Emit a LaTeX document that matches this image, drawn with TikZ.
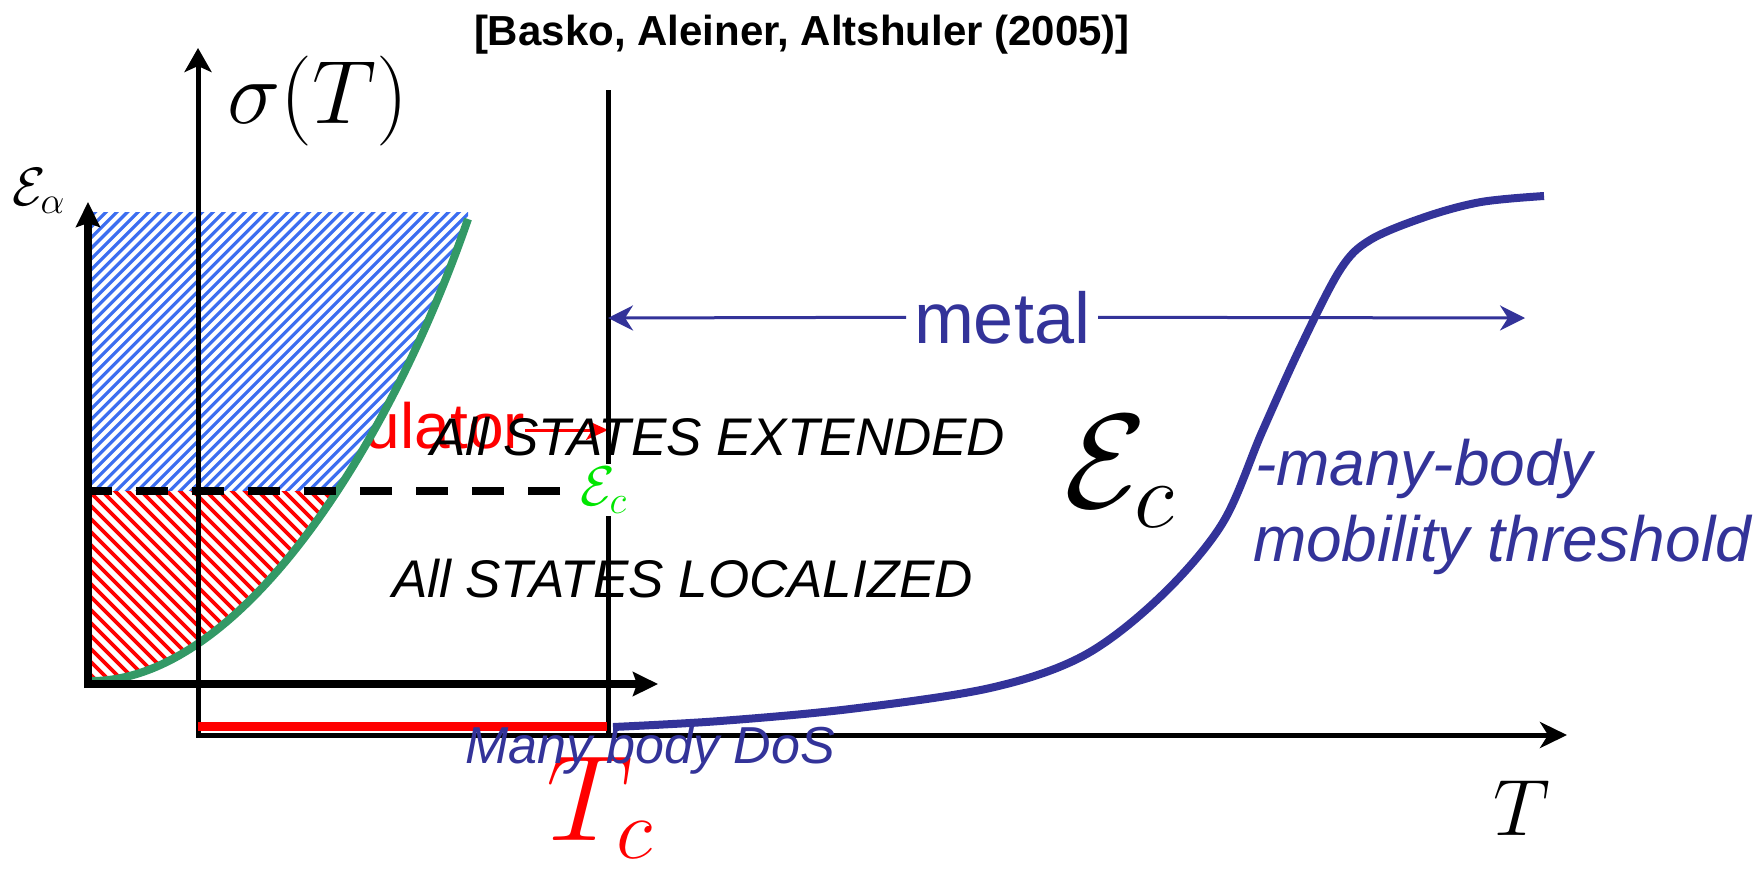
\documentclass[tikz,border=0pt]{standalone}
\usepackage{fix-cm}
\usepackage{fontspec}
\setsansfont{Liberation Sans}
\usetikzlibrary{arrows.meta}
\definecolor{mb}{RGB}{51,51,153}
\definecolor{gcurve}{RGB}{51,153,102}
\definecolor{glabel}{RGB}{0,230,0}
\definecolor{hblue}{RGB}{60,110,240}
\begin{document}
\begin{tikzpicture}[x=0.5pt,y=-0.5pt,
  every node/.style={inner sep=0pt, outer sep=0pt},
  txt/.style={anchor=base west},
  sanst/.style={font=\sffamily\fontsize{#1}{#1}\selectfont},
  itt/.style={font=\sffamily\itshape\fontsize{#1}{#1}\selectfont},
  mathlbl/.style={font=\fontsize{#1}{#1}\selectfont},
  thickax/.style={line width=4pt,-{Stealth[length=12.5pt,width=12pt,inset=2pt]}},
  thinax/.style={line width=2.5pt},
  metalarrow/.style={mb,line width=1.5pt,-{Stealth[length=12.5pt,width=12.5pt,inset=4pt]}},
  bluehatch/.style={hblue,line width=1.6pt},
  redhatch/.style={red,line width=1.8pt}]
\useasboundingbox (0,0) rectangle (1764,874);

% title
\node[txt,font=\sffamily\bfseries\fontsize{21}{25}\selectfont] (title) at (474,45) {[Basko, Aleiner, Altshuler (2005)]};

% red insulator text (partly hidden by the hatch)
\node[anchor=base east,red,sanst=32] (ul) at (525,448) {ulator};
\coordinate (rt) at (608,430);
\draw[red,line width=1.5pt,-{Stealth[length=11pt,width=10pt,inset=3pt]}] (ul.east |- rt) -- (rt);

% hatched regions
\begin{scope}
  \clip (84,690) -- (88,681) .. controls (240,684) and (390,445) .. (468,219) -- (468,205) -- (84,205) -- cycle;
  \begin{scope}
    \clip (84,212) rectangle (480,491);
    \fill[white] (84,212) rectangle (480,491);
    \foreach \i in {-30,...,46} \draw[bluehatch] (\i*10.7,500) -- ++(300,-300);
  \end{scope}
  \begin{scope}
    \clip (84,491) rectangle (480,700);
    \fill[white] (84,491) rectangle (480,700);
    \foreach \i in {-14,...,32} \draw[redhatch] (\i*13,480) -- ++(230,230);
  \end{scope}
\end{scope}

% green mobility edge curve
\coordinate (gB) at (88,681);
\coordinate (gT) at (468,219);
\draw[gcurve,line width=4pt] (gB) .. controls (240,684) and (390,445) .. (gT);

% dashed line
\coordinate (dR) at (560,491);
\coordinate (dL) at (88,491);
\draw[line width=4pt,dash pattern=on 16pt off 12pt] (dR) -- (dL);

% energy axes
\coordinate (eO) at (88,688);
\coordinate (eT) at (88,202);
\coordinate (hO) at (84,684);
\coordinate (hT) at (658,684);
\draw[thickax] (eO) -- (eT);
\draw[thickax] (hO) -- (hT);

% sigma(T) axes
\coordinate (sO) at (198,737);
\coordinate (sT) at (198,48);
\coordinate (tO) at (196,735);
\coordinate (tT) at (1567,735);
\draw[thinax,-{Stealth[length=12pt,width=13.5pt,inset=3pt]}] (sO) -- (sT);
\draw[thinax,-{Stealth[length=13.5pt,width=13pt,inset=4pt]}] (tO) -- (tT);

% vertical line at Tc
\coordinate (vT) at (608,90);
\coordinate (vB) at (608,735);
\draw[thinax] (vT) -- (vB);

% red segment
\coordinate (rL) at (198,726);
\coordinate (rR) at (607,726);
\draw[red,line width=4.5pt] (rL) -- (rR);

% blue curve
\draw[mb,line width=4pt] plot[smooth,tension=0.55] coordinates {(613,727) (720,721) (850,709) (990,688) (1083,656) (1159,598) (1222,524) (1262,432) (1300,348) (1340,270) (1370,240) (1425,217) (1481,202) (1544,196)};

% metal
\node[txt,mb,sanst=36,inner xsep=4pt] (metal) at (906,343) {metal};
\coordinate (mL) at (608,318);
\coordinate (mR) at (1525,318);
\draw[metalarrow] (metal.west) -- (mL);
\draw[metalarrow] (metal.east) -- (mR);

% texts
\node[txt,itt=26.5] (ext) at (430,455) {All STATES EXTENDED};
\node[txt,itt=26.5] (loc) at (392,597) {All STATES LOCALIZED};
\node[txt,glabel,fill=white,inner sep=1.5pt,mathlbl=28] (Ecg) at (577,505) {$\mathcal{E}_c$};
\node[anchor=base,mathlbl=45] (sig) at (318,123) {$\sigma(T)$};
\node[txt,mathlbl=27] (ea) at (12,205) {$\mathcal{E}_\alpha$};
\node[txt,mathlbl=40] (Tl) at (1493,835) {$T$};
\node[txt,red,mathlbl=61] (Tc) at (546,840) {$T_c$};
\node[txt,mathlbl=67] (Ecb) at (1064,507) {$\mathcal{E}_c$};
\node[txt,mb,itt=26] (dos) at (465,763) {Many body DoS};
\node[txt,mb,itt=32] (mb1) at (1255,485) {-many-body};
\node[txt,mb,itt=32] (mb2) at (1253,561) {mobility threshold};
\end{tikzpicture}
\end{document}
